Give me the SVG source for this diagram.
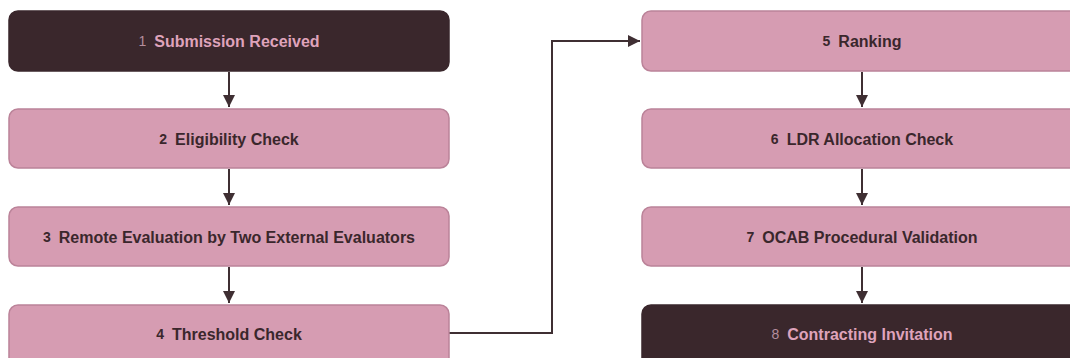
<svg xmlns="http://www.w3.org/2000/svg" width="1070" height="358" viewBox="0 0 1070 358">
<style>
.pink{fill:#d69cb2;stroke:#bb8399;stroke-width:1.5}
.dark{fill:#3a272c;stroke:#3a272c;stroke-width:1.5}
.t{font-family:"Liberation Sans",Arial,sans-serif;font-weight:bold;font-size:16px;text-anchor:middle;dominant-baseline:central}
.tp{fill:#3a272c}
.td{fill:#dfa3bb}
.n{font-weight:bold;font-size:14px}
.nd{font-weight:normal;fill:#b48d9c}
.c{fill:none;stroke:#3f2f33;stroke-width:2}
</style>
<defs>
<marker id="ah" viewBox="0 0 10 10" refX="10" refY="5" markerWidth="6" markerHeight="6" orient="auto" markerUnits="strokeWidth">
<path d="M0,0 L10,5 L0,10 z" fill="#3f2f33"/>
</marker>
</defs>
<rect width="1070" height="358" fill="#ffffff"/>
<g id="connectors">
<line class="c" x1="229" y1="72" x2="229" y2="107" marker-end="url(#ah)"/>
<line class="c" x1="229" y1="169" x2="229" y2="205" marker-end="url(#ah)"/>
<line class="c" x1="229" y1="267" x2="229" y2="303" marker-end="url(#ah)"/>
<polyline class="c" points="449,333 552,333 552,41 640,41" marker-end="url(#ah)"/>
<line class="c" x1="862" y1="72" x2="862" y2="107" marker-end="url(#ah)"/>
<line class="c" x1="862" y1="169" x2="862" y2="205" marker-end="url(#ah)"/>
<line class="c" x1="862" y1="267" x2="862" y2="303" marker-end="url(#ah)"/>
</g>
<g id="node1"><rect class="dark" x="9" y="11" width="440" height="60" rx="9"/><text class="t td" x="229" y="41"><tspan class="n nd">1</tspan><tspan dx="8">Submission Received</tspan></text></g>
<g id="node2"><rect class="pink" x="9" y="109" width="440" height="59" rx="9"/><text class="t tp" x="229" y="139"><tspan class="n">2</tspan><tspan dx="8">Eligibility Check</tspan></text></g>
<g id="node3"><rect class="pink" x="9" y="207" width="440" height="59" rx="9"/><text class="t tp" x="229" y="237"><tspan class="n">3</tspan><tspan dx="8">Remote Evaluation by Two External Evaluators</tspan></text></g>
<g id="node4"><rect class="pink" x="9" y="305" width="440" height="64" rx="9"/><text class="t tp" x="229" y="334"><tspan class="n">4</tspan><tspan dx="8">Threshold Check</tspan></text></g>
<g id="node5"><rect class="pink" x="642" y="11" width="440" height="60" rx="9"/><text class="t tp" x="862" y="41"><tspan class="n">5</tspan><tspan dx="8">Ranking</tspan></text></g>
<g id="node6"><rect class="pink" x="642" y="109" width="440" height="59" rx="9"/><text class="t tp" x="862" y="139"><tspan class="n">6</tspan><tspan dx="8">LDR Allocation Check</tspan></text></g>
<g id="node7"><rect class="pink" x="642" y="207" width="440" height="59" rx="9"/><text class="t tp" x="862" y="237"><tspan class="n">7</tspan><tspan dx="8">OCAB Procedural Validation</tspan></text></g>
<g id="node8"><rect class="dark" x="642" y="305" width="440" height="64" rx="9"/><text class="t td" x="862" y="334"><tspan class="n nd">8</tspan><tspan dx="8">Contracting Invitation</tspan></text></g>
</svg>
